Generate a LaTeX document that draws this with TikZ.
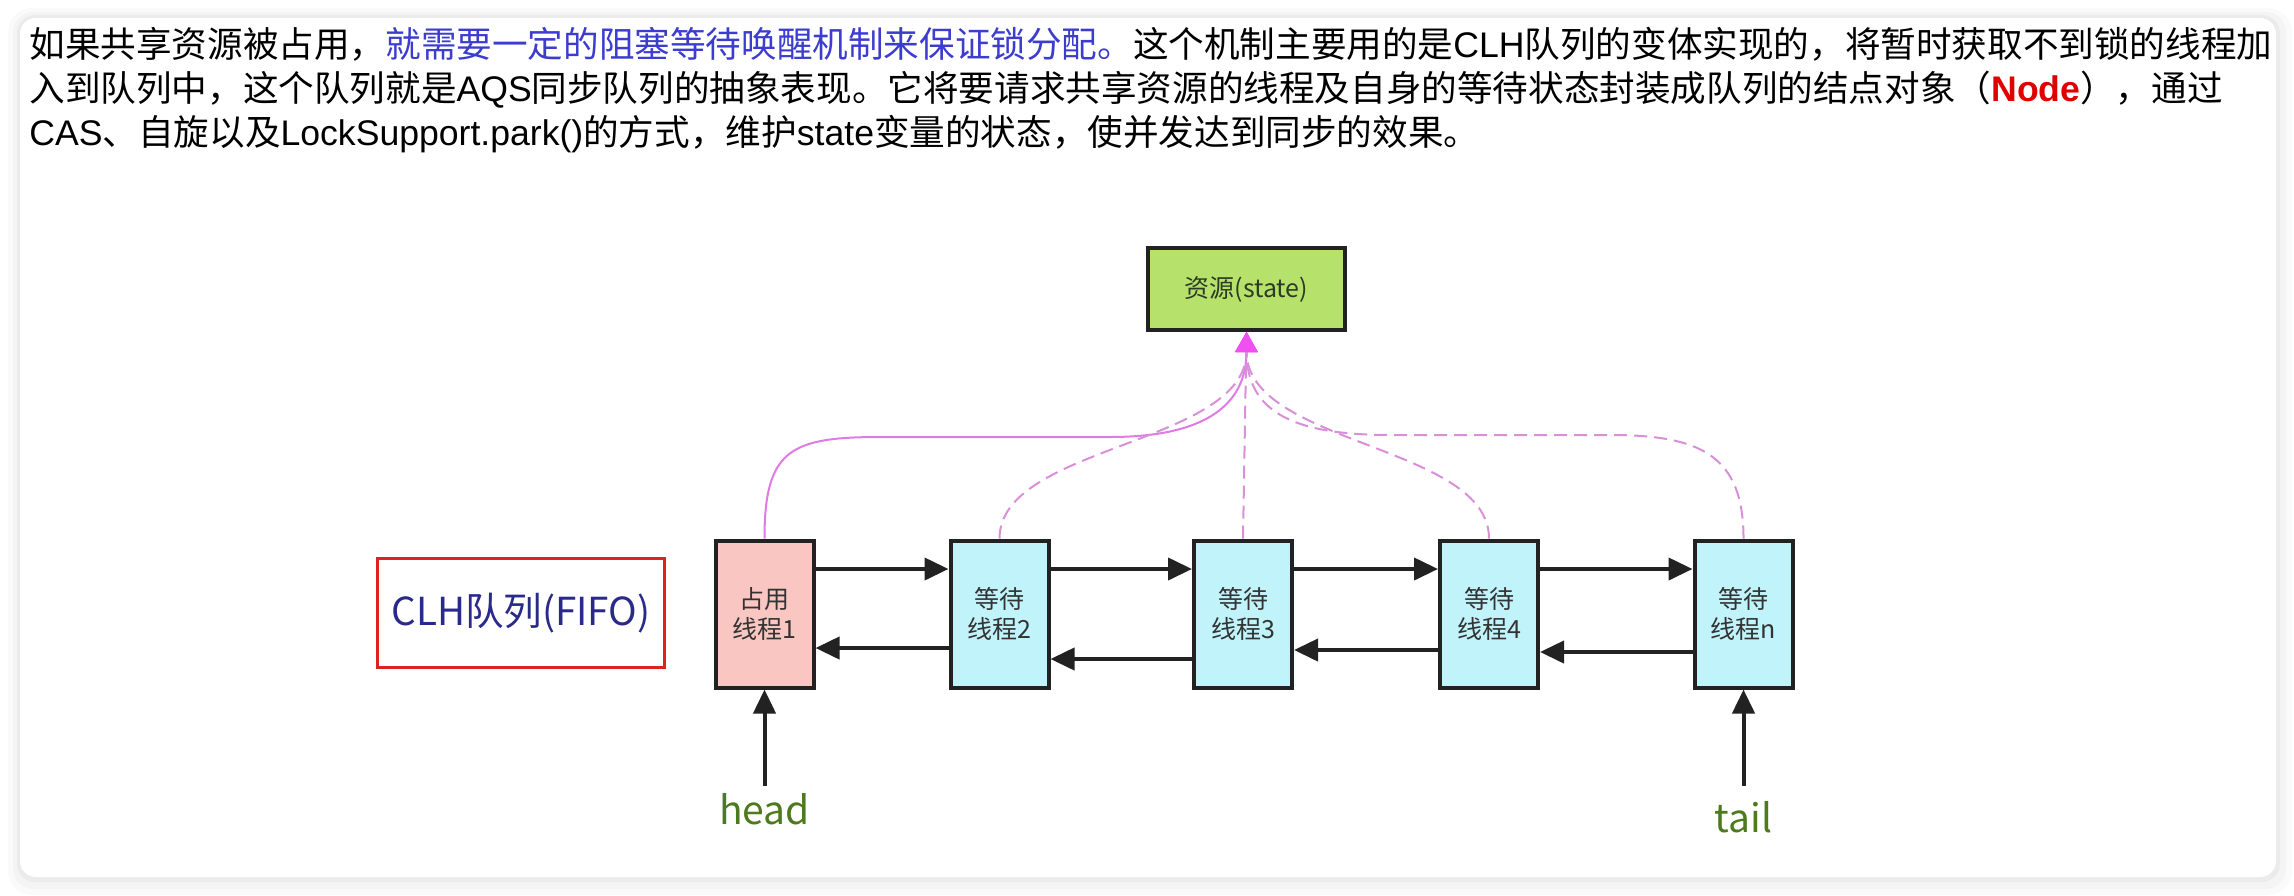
\documentclass[tikz,border=0pt]{standalone}
\usepackage{fontspec}
\setmainfont{Noto Sans CJK SC}
\newfontfamily\latfont{Liberation Sans}
\usepackage{xcolor}
\usetikzlibrary{arrows.meta,positioning}
\definecolor{topblue}{HTML}{3C3CCF}
\definecolor{nodered}{HTML}{E00000}
\definecolor{boxline}{HTML}{222222}
\definecolor{resgreen}{HTML}{B6E26C}
\definecolor{restext}{HTML}{2E3B24}
\definecolor{threadtext}{HTML}{333333}
\definecolor{heldpink}{HTML}{F9C6C1}
\definecolor{waitcyan}{HTML}{C0F3FA}
\definecolor{clhred}{HTML}{DD2222}
\definecolor{clhblue}{HTML}{2A2A8A}
\definecolor{ptrgreen}{HTML}{4E7A1E}
\definecolor{linkblack}{HTML}{222222}
\definecolor{grabviolet}{HTML}{E07BE6}
\definecolor{waitviolet}{HTML}{D890D8}
\definecolor{tipmagenta}{HTML}{F050F0}
\tikzset{
    para/.style={anchor=base west, inner sep=0pt, font=\fontsize{17.8}{22}\selectfont, text=black},
    resource/.style={rectangle, draw=boxline, line width=2pt, fill=resgreen, minimum width=98.5pt, minimum height=41pt, font=\fontsize{12.5}{15}\selectfont, text=restext},
    thread/.style={rectangle, draw=boxline, line width=2pt, minimum width=49pt, minimum height=73.5pt, align=center, font=\fontsize{12.5}{15}\selectfont, text=threadtext},
    held/.style={thread, fill=heldpink},
    waiting/.style={thread, fill=waitcyan},
    queuebox/.style={rectangle, draw=clhred, line width=1.5pt, minimum width=143.5pt, minimum height=54.5pt, font=\fontsize{19.3}{22}\selectfont, text=clhblue},
    pointer/.style={font=\fontsize{19.5}{22}\selectfont, text=ptrgreen},
    link/.style={-{Triangle[length=12pt,width=11pt]}, line width=2pt, draw=linkblack},
    grab/.style={-{Triangle[length=10pt,width=11pt,color=tipmagenta]}, line width=1pt, draw=grabviolet},
    contend/.style={grab, draw=waitviolet, dash pattern=on 6.5pt off 3.5pt}
}
\begin{document}
\begin{tikzpicture}[x=0.5pt,y=-0.5pt]
\useasboundingbox (0,0) rectangle (2294,895);

% card with soft shadow
\fill[white] (0,0) rectangle (2294,895);
\fill[black, opacity=0.02, rounded corners=12pt] (8,8) rectangle (2292,895);
\fill[black, opacity=0.025, rounded corners=10pt] (13,12) rectangle (2286,889);
\fill[black, opacity=0.035, rounded corners=9pt] (17,15) rectangle (2280,882);
\fill[white, rounded corners=8pt] (20,18) rectangle (2276,877);

% paragraph above the figure
\node[para] (line1) at (29,57) {如果共享资源被占用，\textcolor{topblue}{就需要一定的阻塞等待唤醒机制来保证锁分配。}这个机制主要用的是{\latfont CLH}队列的变体实现的，将暂时获取不到锁的线程加};
\node[para] (line2) at (29,101) {入到队列中，这个队列就是{\latfont AQS}同步队列的抽象表现。它将要请求共享资源的线程及自身的等待状态封装成队列的结点对象（\textcolor{nodered}{\latfont\bfseries Node}），通过};
\node[para] (line3) at (29,145) {{\latfont CAS}、自旋以及{\latfont LockSupport.park()}的方式，维护{\latfont state}变量的状态，使并发达到同步的效果。};

% shared resource
\node[resource] (res) at (1246.5,289) {资源(state)};

% CLH queue
\node[queuebox] (clh) at (521,613) {CLH队列(FIFO)};
\node[held] (n1) at (764.5,614) {占用\\线程1};
\node[waiting] (n2) at (999.5,614) {等待\\线程2};
\node[waiting] (n3) at (1243,614) {等待\\线程3};
\node[waiting] (n4) at (1489,614) {等待\\线程4};
\node[waiting] (nn) at (1743.5,614) {等待\\线程n};

% head and tail pointers
\node[pointer, below=48pt of n1, inner sep=4pt] (head) {head};
\node[pointer, below=48pt of nn, inner sep=8pt] (tail) {tail};
\draw[link] (head.north) -- (n1.south);
\draw[link] (tail.north) -- (nn.south);

% next links
\draw[link] ([yshift=22.5pt]n1.east) -- ([yshift=22.5pt]n2.west);
\draw[link] ([yshift=22.5pt]n2.east) -- ([yshift=22.5pt]n3.west);
\draw[link] ([yshift=22.5pt]n3.east) -- ([yshift=22.5pt]n4.west);
\draw[link] ([yshift=22.5pt]n4.east) -- ([yshift=22.5pt]nn.west);

% prev links
\draw[link] ([yshift=-17pt]n2.west) -- ([yshift=-17pt]n1.east);
\draw[link] ([yshift=-22.5pt]n3.west) -- ([yshift=-22.5pt]n2.east);
\draw[link] ([yshift=-18pt]n4.west) -- ([yshift=-18pt]n3.east);
\draw[link] ([yshift=-19pt]nn.west) -- ([yshift=-19pt]n4.east);

% holder and waiters on the state
\draw[grab] (n1.north) .. controls (764.5,450) and (790,437) .. (880,437) -- (1110,437) .. controls (1205,437) and (1246.5,405) .. (res.south);
\draw[contend] (n2.north) .. controls (999.5,445) and (1246.5,445) .. (res.south);
\draw[contend] (n3.north) -- (res.south);
\draw[contend] (n4.north) .. controls (1489,445) and (1246.5,445) .. (res.south);
\draw[contend] (nn.north) .. controls (1743.5,455) and (1700,435) .. (1610,435) -- (1390,435) .. controls (1290,435) and (1246.5,410) .. (res.south);

\end{tikzpicture}
\end{document}
